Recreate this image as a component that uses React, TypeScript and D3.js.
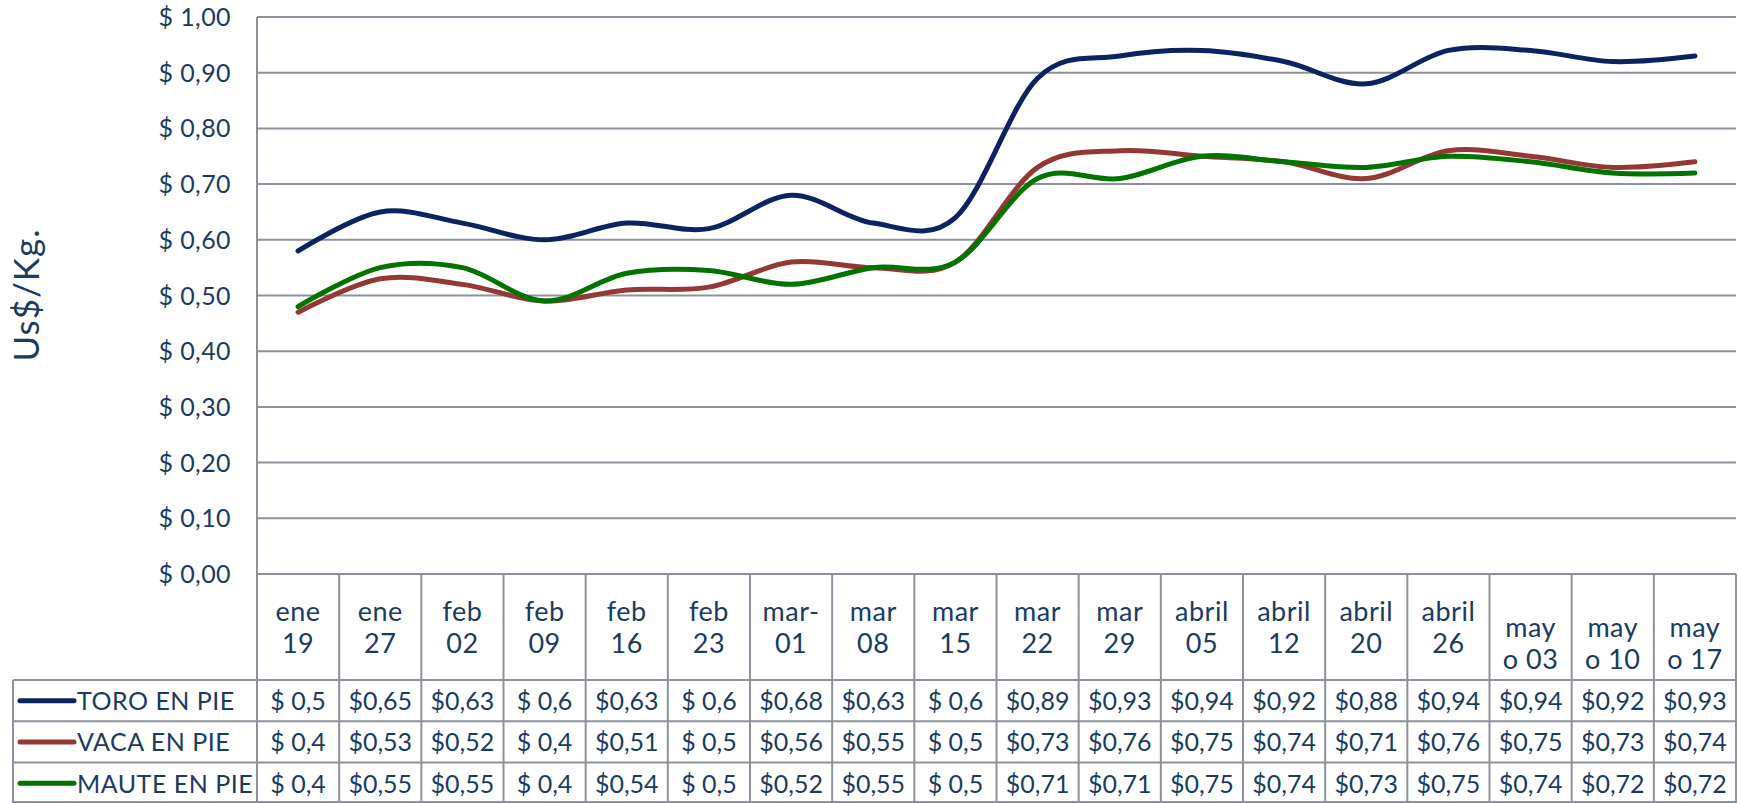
import React from 'react';
import * as d3 from 'd3';

// week labels as Excel wrapped them in the table header
const categoryLines: string[][] = [
  ['ene', '19'], ['ene', '27'], ['feb', '02'], ['feb', '09'], ['feb', '16'], ['feb', '23'],
  ['mar-', '01'], ['mar', '08'], ['mar', '15'], ['mar', '22'], ['mar', '29'],
  ['abril', '05'], ['abril', '12'], ['abril', '20'], ['abril', '26'],
  ['', 'may', 'o 03'], ['', 'may', 'o 10'], ['', 'may', 'o 17'],
];

const seriesNames = ['TORO EN PIE', 'VACA EN PIE', 'MAUTE EN PIE'];
const seriesColors = ['#0b2461', '#953735', '#017400'];

const toro = [0.58, 0.65, 0.63, 0.60, 0.63, 0.62, 0.68, 0.63, 0.64, 0.89, 0.93, 0.94, 0.92, 0.88, 0.94, 0.94, 0.92, 0.93];
const vaca = [0.47, 0.53, 0.52, 0.49, 0.51, 0.515, 0.56, 0.55, 0.56, 0.73, 0.76, 0.75, 0.74, 0.71, 0.76, 0.75, 0.73, 0.74];
const maute = [0.48, 0.55, 0.55, 0.49, 0.54, 0.545, 0.52, 0.55, 0.56, 0.71, 0.71, 0.75, 0.74, 0.73, 0.75, 0.74, 0.72, 0.72];

// cell texts as the data table shows them
const toroCells = ['$ 0,5', '$0,65', '$0,63', '$ 0,6', '$0,63', '$ 0,6', '$0,68', '$0,63', '$ 0,6', '$0,89', '$0,93', '$0,94', '$0,92', '$0,88', '$0,94', '$0,94', '$0,92', '$0,93'];
const vacaCells = ['$ 0,4', '$0,53', '$0,52', '$ 0,4', '$0,51', '$ 0,5', '$0,56', '$0,55', '$ 0,5', '$0,73', '$0,76', '$0,75', '$0,74', '$0,71', '$0,76', '$0,75', '$0,73', '$0,74'];
const mauteCells = ['$ 0,4', '$0,55', '$0,55', '$ 0,4', '$0,54', '$ 0,5', '$0,52', '$0,55', '$ 0,5', '$0,71', '$0,71', '$0,75', '$0,74', '$0,73', '$0,75', '$0,74', '$0,72', '$0,72'];

const yTicks = [0, 0.1, 0.2, 0.3, 0.4, 0.5, 0.6, 0.7, 0.8, 0.9, 1.0];
const yTitle = 'Us$/Kg.';

const W = 1738;
const H = 803;
const FONT = 'Lato, "Open Sans", sans-serif';
const TEXT = '#1a3b62';
const GRID = '#8c919b';

export default function App() {
  const series = [toro, vaca, maute];
  const cells = [toroCells, vacaCells, mauteCells];

  const plotLeft = 257;
  const plotRight = 1736;
  const x = d3.scaleBand<number>()
    .domain(categoryLines.map((_, i) => i))
    .range([plotLeft, plotRight]);
  const y = d3.scaleLinear().domain([0, 1]).range([574, 17]);

  // Excel "smoothed line" ~ uniform Catmull-Rom
  const line = d3.line<number>()
    .x((_, i) => x(i)! + x.bandwidth() / 2)
    .y(d => y(d))
    .curve(d3.curveCardinal.tension(0));

  const fmt = (v: number) => '$ ' + d3.format('.2f')(v).replace('.', ',');

  const headerBottom = 680;
  const rowH = 41.3;
  const tableLeft = 13;
  const headerMid = 636.7;

  return (
    <svg width={W} height={H} style={{ position: 'absolute', left: 0, top: 0, background: '#fff' }}
      fontFamily={FONT}>
      {/* gridlines */}
      {yTicks.map(t => (
        <line key={t} x1={plotLeft} x2={plotRight} y1={y(t)} y2={y(t)} stroke={GRID} strokeWidth={2} />
      ))}
      {/* y tick labels */}
      {yTicks.map(t => (
        <text key={'l' + t} x={231} y={y(t) + 9} textAnchor="end" fontSize={25} fill={TEXT}
          letterSpacing={0.4}>{fmt(t)}</text>
      ))}
      <text transform={`translate(39,295) rotate(-90)`} textAnchor="middle" fontSize={35} fill={TEXT}
        letterSpacing={1}>{yTitle}</text>

      {/* table grid */}
      <line x1={plotLeft} x2={plotLeft} y1={y(1)} y2={H} stroke={GRID} strokeWidth={2} />
      {categoryLines.map((_, i) => (
        <line key={'v' + i} x1={x(i)! + x.bandwidth()} x2={x(i)! + x.bandwidth()} y1={y(0)} y2={H}
          stroke={GRID} strokeWidth={2} />
      ))}
      {seriesNames.map((_, r) => (
        <line key={'h' + r} x1={tableLeft} x2={plotRight} y1={headerBottom + r * rowH} y2={headerBottom + r * rowH}
          stroke={GRID} strokeWidth={2} />
      ))}
      <line x1={tableLeft} x2={plotRight} y1={H - 1} y2={H - 1} stroke={GRID} strokeWidth={2} />
      <line x1={tableLeft} x2={tableLeft} y1={headerBottom} y2={H} stroke={GRID} strokeWidth={2} />

      {/* header labels */}
      {categoryLines.map((lines, i) => (
        <text key={'c' + i} textAnchor="middle" fontSize={27} fill={TEXT} letterSpacing={0.5}>
          {lines.map((s, k) => (
            <tspan key={k} x={x(i)! + x.bandwidth() / 2} y={headerMid - (lines.length - 1) * 16 + k * 32}>{s}</tspan>
          ))}
        </text>
      ))}

      {/* rows */}
      {seriesNames.map((name, r) => {
        const top = headerBottom + r * rowH;
        return (
          <g key={name}>
            <line x1={20} x2={74} y1={top + rowH / 2} y2={top + rowH / 2} stroke={seriesColors[r]}
              strokeWidth={5} strokeLinecap="round" />
            <text x={77} y={top + 30} fontSize={25} fill={TEXT} letterSpacing={0.5}>{name}</text>
            {cells[r].map((c, i) => (
              <text key={i} x={x(i)! + x.bandwidth() / 2} y={top + 30} textAnchor="middle" fontSize={25} fill={TEXT}>{c}</text>
            ))}
          </g>
        );
      })}

      {/* series lines */}
      {series.map((s, r) => (
        <path key={'s' + r} d={line(s)!} fill="none" stroke={seriesColors[r]} strokeWidth={5}
          strokeLinecap="round" strokeLinejoin="round" />
      ))}
    </svg>
  );
}
